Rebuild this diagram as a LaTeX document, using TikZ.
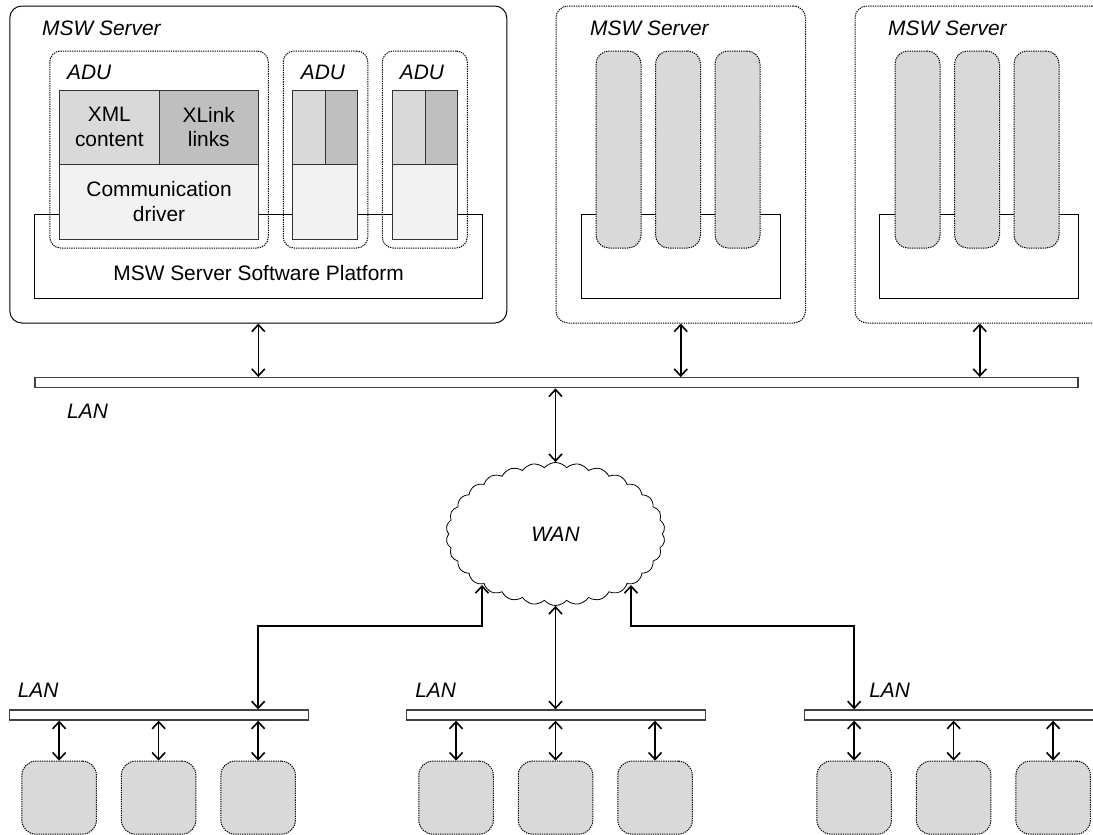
\documentclass[tikz,border=0pt]{standalone}
\usepackage{fontspec}
\setmainfont{Liberation Sans}
\usetikzlibrary{positioning}
\usetikzlibrary{arrows.meta}
\usetikzlibrary{shapes.symbols}
\definecolor{xmlgray}{HTML}{D9D9D9}
\definecolor{lnkgray}{HTML}{BFBFBF}
\definecolor{drvgray}{HTML}{F2F2F2}
\definecolor{bargray}{HTML}{404040}
\newcommand{\mswfont}{\fontsize{20.9}{24.5}\selectfont}
\tikzset{
	sz/.style 2 args={minimum width=#1pt, minimum height=#2pt},
	dots/.style={dash pattern=on 1.3pt off 1pt, line width=1pt},
	srvsolid/.style={draw, line width=1pt, rounded corners=12pt, inner sep=0pt},
	srvdot/.style={draw, dots, rounded corners=12pt, inner sep=0pt},
	adu/.style={draw, dots, rounded corners=11pt, inner sep=0pt},
	plat/.style={draw, line width=1pt, inner sep=0pt},
	cell/.style={draw=black!80, line width=1pt, inner sep=0pt, outer sep=0pt, align=center},
	xmlcell/.style={cell, fill=xmlgray},
	lnkcell/.style={cell, fill=lnkgray},
	drvcell/.style={cell, fill=drvgray},
	col/.style={draw, dots, fill=xmlgray, rounded corners=13pt, inner sep=0pt},
	dev/.style={draw, dots, fill=xmlgray, rounded corners=14pt, inner sep=0pt},
	bar/.style={draw=bargray, line width=1.3pt, fill=white, inner sep=0pt},
	lbl/.style={font=\mswfont\itshape, inner sep=0pt},
	link/.style={<->, line width=1.6pt},
	>={Straight Barb[length=7pt,width=13pt]}
}
\begin{document}
\begin{tikzpicture}[x=1pt, y=-1pt, font=\mswfont]
	\useasboundingbox (0,0) rectangle (1093,835);
	\clip (0,0) rectangle (1093,835);
	
	\node[srvsolid, sz={497}{317}] (srvA) at (258.3,164.5) {};
	\node[lbl, anchor=west] (srvAlbl) at (42,28) {MSW Server};
	\node[plat, sz={448}{84}] (platA) at (258.4,256) {};
	\node (platAtxt) at (258.6,273) {MSW Server Software Platform};
	\node[adu, sz={218.5}{197}] (aduA) at (159,149.5) {}; \node[lbl, anchor=west] (aduAlbl) at (67,72) {ADU};
	\node[adu, sz={84.5}{197}] (aduB) at (325.5,149.5) {}; \node[lbl] (aduBlbl) at (323,72) {ADU};
	\node[adu, sz={85}{197}] (aduC) at (424.75,149.5) {}; \node[lbl] (aduClbl) at (422,72) {ADU};
	\node[xmlcell, sz={99.5}{74}] (xmlA) at (109.3,127) {XML\\content};
	\node[lnkcell, sz={99.5}{74}, right=0pt of xmlA] (lnkA) {XLink\\links};
	\node[drvcell, sz={199}{75}, below right=0pt and 0pt of xmlA.south west] (drvA) {Communication\\driver};
	\node[xmlcell, sz={32.5}{74}] (xmlB) at (309.2,127) {}; \node[lnkcell, sz={32.5}{74}, right=0pt of xmlB] (lnkB) {};
	\node[drvcell, sz={65}{75}, below right=0pt and 0pt of xmlB.south west] (drvB) {};
	\node[xmlcell, sz={32.5}{74}] (xmlC) at (408.8,127) {}; \node[lnkcell, sz={32.5}{74}, right=0pt of xmlC] (lnkC) {};
	\node[drvcell, sz={65}{75}, below right=0pt and 0pt of xmlC.south west] (drvC) {};
	
	\node[srvdot, sz={249.5}{317}] (srvB) at (680.75,164.5) {};
	\node[lbl, anchor=west] (srvBlbl) at (590,28) {MSW Server};
	\node[plat, sz={199}{84}] (platB) at (680.75,256) {};
	\node[col, sz={45}{197}] (colB1) at (618.5,149.5) {}; \node[col, sz={45}{197}] (colB2) at (678,149.5) {}; \node[col, sz={45}{197}] (colB3) at (737.5,149.5) {};
	
	\node[srvdot, sz={249.5}{317}] (srvC) at (979.75,164.5) {};
	\node[lbl, anchor=west] (srvClbl) at (888,28) {MSW Server};
	\node[plat, sz={199.5}{84}] (platC) at (979,256) {};
	\node[col, sz={45}{197}] (colC1) at (917.5,149.5) {}; \node[col, sz={45}{197}] (colC2) at (977,149.5) {}; \node[col, sz={45}{197}] (colC3) at (1036.5,149.5) {};
	
	\node[bar, sz={1043}{10}] (lanM) at (556.4,382.7) {};
	\node[lbl, anchor=west] (lanMlbl) at (67,411) {LAN};
	\draw[link] (srvA.south) -- (srvA.south |- lanM.north); \draw[link] (srvB.south) -- (srvB.south |- lanM.north); \draw[link] (srvC.south) -- (srvC.south |- lanM.north);
	
	\node[cloud, draw, line width=0.8pt, cloud puffs=30, cloud puff arc=100, aspect=1.55, sz={219}{143}, inner sep=0pt, font=\mswfont\itshape] (wan) at (555.5,534) {WAN};
	\draw[link] (lanM.south -| wan.north) -- (wan.north);
	
	\node[bar, sz={299}{10}] (lanL) at (159.3,715) {};
	\node[bar, sz={299}{10}] (lanC) at (556.2,715) {};
	\node[bar, sz={299}{10}] (lanR) at (954.3,715) {};
	\node[lbl, above right=11.5pt and 8.5pt of lanL.north west] (lanLlbl) {LAN};
	\node[lbl, above right=11.5pt and 9pt of lanC.north west] (lanClbl) {LAN};
	\node[lbl, above right=11.5pt and 65pt of lanR.north west] (lanRlbl) {LAN};
	\node[dev, sz={74.5}{73}, below=40pt of lanL.south west, xshift=50pt] (devL1) {}; \node[dev, sz={74.5}{73}, below=40pt of lanL.south west, xshift=149.5pt] (devL2) {}; \node[dev, sz={74.5}{73}, below=40pt of lanL.south west, xshift=249pt] (devL3) {};
	\node[dev, sz={74.5}{73}, below=40pt of lanC.south west, xshift=50pt] (devC1) {}; \node[dev, sz={74.5}{73}, below=40pt of lanC.south west, xshift=149.5pt] (devC2) {}; \node[dev, sz={74.5}{73}, below=40pt of lanC.south west, xshift=249pt] (devC3) {};
	\node[dev, sz={74.5}{73}, below=40pt of lanR.south west, xshift=50pt] (devR1) {}; \node[dev, sz={74.5}{73}, below=40pt of lanR.south west, xshift=149.5pt] (devR2) {}; \node[dev, sz={74.5}{73}, below=40pt of lanR.south west, xshift=249pt] (devR3) {};
	\draw[link] (lanL.south -| devL1.north) -- (devL1.north); \draw[link] (lanL.south -| devL2.north) -- (devL2.north); \draw[link] (lanL.south -| devL3.north) -- (devL3.north);
	\draw[link] (lanC.south -| devC1.north) -- (devC1.north); \draw[link] (lanC.south -| devC2.north) -- (devC2.north); \draw[link] (lanC.south -| devC3.north) -- (devC3.north);
	\draw[link] (lanR.south -| devR1.north) -- (devR1.north); \draw[link] (lanR.south -| devR2.north) -- (devR2.north); \draw[link] (lanR.south -| devR3.north) -- (devR3.north);
	
	\coordinate (wanL) at (482,585); \coordinate (wanR) at (631,585);
	\draw[link] (wanL) -- ++(0,41) -| (lanL.north -| devL3.north);
	\draw[link] (wan.south) -- (wan.south |- lanC.north);
	\draw[link] (wanR) -- ++(0,41) -| (lanR.north -| devR1.north);
\end{tikzpicture}
\end{document}
